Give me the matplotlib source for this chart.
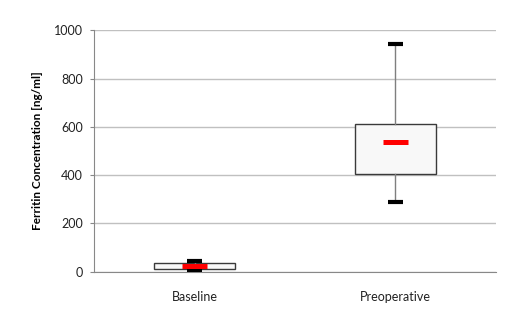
import matplotlib.pyplot as plt

# values (ng/ml)
groups = ["Baseline", "Preoperative"]
q1 = [10, 403]
q3 = [35, 612]
medians = [22, 536]
whisker_lo = [5, 290]
whisker_hi = [45, 944]

plt.rcParams['font.family'] = ['Lato', 'DejaVu Sans']

fig = plt.figure(figsize=(5.18, 3.28), dpi=100)
ax = fig.add_axes([0.1815, 0.1717, 0.776, 0.736])

stats = []
for i in range(len(groups)):
    stats.append(dict(label=groups[i], med=medians[i], q1=q1[i], q3=q3[i],
                      whislo=whisker_lo[i], whishi=whisker_hi[i], fliers=[]))

pos = list(range(len(groups)))
ax.bxp(stats, positions=pos, widths=0.4, patch_artist=True, showfliers=False,
       capwidths=0.07,
       boxprops=dict(facecolor='#f8f8f8', edgecolor='#3a3a3a', linewidth=1.0),
       whiskerprops=dict(color='#7f7f7f', linewidth=1.0),
       capprops=dict(color='black', linewidth=3.0, solid_capstyle='butt'),
       medianprops=dict(linewidth=0), zorder=3)

# red median bars
ax.hlines(medians, [p - 0.06 for p in pos], [p + 0.06 for p in pos],
          colors='red', linewidth=3.6, zorder=4)

ax.set_xlim(-0.5, 1.5)
ax.set_ylim(0, 1000)
ax.set_yticks(range(0, 1001, 200))
ax.set_xticks(pos)
ax.set_xticklabels(groups)
ax.tick_params(axis='x', length=0, pad=14, labelsize=9, colors='#222222')
ax.tick_params(axis='y', length=3, width=0.8, color='#888888', pad=5,
               labelsize=9, labelcolor='#222222')
ax.yaxis.grid(True, color='#c0c0c0', linewidth=1.0)
ax.set_axisbelow(True)

for s in ['top', 'right']:
    ax.spines[s].set_visible(False)
for s in ['left', 'bottom']:
    ax.spines[s].set_color('#888888')
    ax.spines[s].set_linewidth(0.8)

ax.set_ylabel("Ferritin Concentration [ng/ml]", fontsize=8.5, fontweight='bold',
              labelpad=8)

fig.savefig("out.png", dpi=100, facecolor='white')
